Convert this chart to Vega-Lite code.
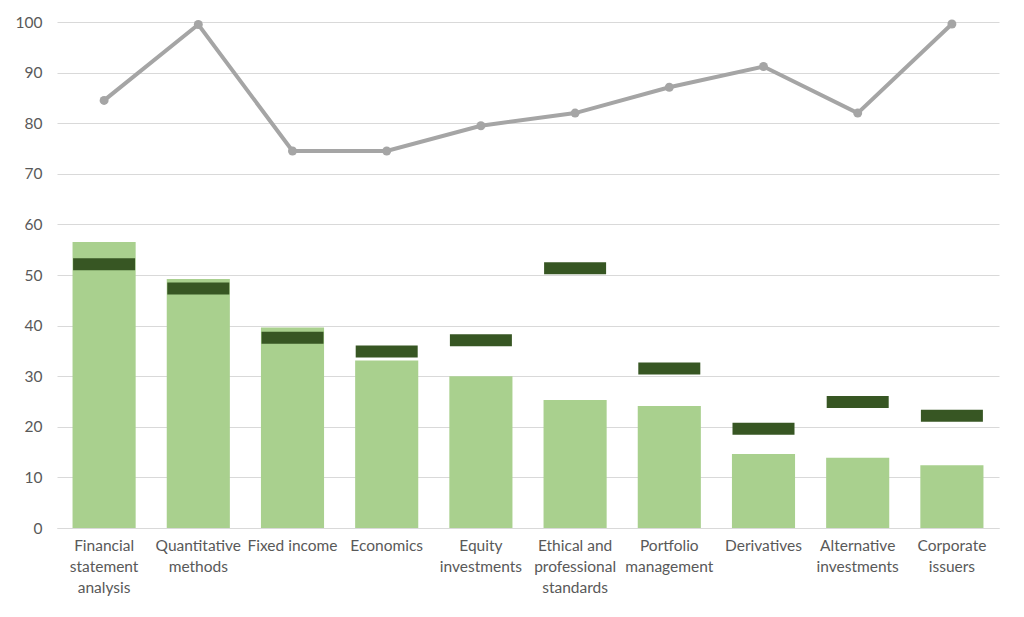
{
  "$schema": "https://vega.github.io/schema/vega-lite/v6.json",
  "autosize": {"type": "none"},
  "width": 942,
  "height": 506,
  "padding": {"left": 57, "top": 22, "right": 25, "bottom": 89},
  "background": "white",
  "data": {
    "values": [
      {"topic": "Financial statement analysis", "bar": 56.5, "marker": 52.1, "line": 84.5},
      {"topic": "Quantitative methods", "bar": 49.2, "marker": 47.35, "line": 99.5},
      {"topic": "Fixed income", "bar": 39.6, "marker": 37.6, "line": 74.5},
      {"topic": "Economics", "bar": 33.1, "marker": 34.9, "line": 74.5},
      {"topic": "Equity investments", "bar": 30.0, "marker": 37.1, "line": 79.5},
      {"topic": "Ethical and professional standards", "bar": 25.3, "marker": 51.35, "line": 82.0},
      {"topic": "Portfolio management", "bar": 24.1, "marker": 31.5, "line": 87.1},
      {"topic": "Derivatives", "bar": 14.6, "marker": 19.6, "line": 91.2},
      {"topic": "Alternative investments", "bar": 13.9, "marker": 24.9, "line": 82.0},
      {"topic": "Corporate issuers", "bar": 12.4, "marker": 22.2, "line": 99.6}
    ]
  },
  "encoding": {
    "x": {
      "field": "topic", "type": "nominal", "sort": null, "title": null,
      "scale": {"paddingInner": 0.33, "paddingOuter": 0.165},
      "axis": {
        "labelAngle": 0, "labelAlign": "center", "labelBaseline": "top",
        "labelPadding": 10, "labelLineHeight": 21, "labelOverlap": false, "labelBound": false,
        "ticks": false, "domainColor": "#D9D9D9", "domainWidth": 1,
        "labelExpr": "datum.value == 'Financial statement analysis' ? ['Financial','statement','analysis'] : datum.value == 'Quantitative methods' ? ['Quantitative','methods'] : datum.value == 'Equity investments' ? ['Equity','investments'] : datum.value == 'Ethical and professional standards' ? ['Ethical and','professional','standards'] : datum.value == 'Portfolio management' ? ['Portfolio','management'] : datum.value == 'Alternative investments' ? ['Alternative','investments'] : datum.value == 'Corporate issuers' ? ['Corporate','issuers'] : datum.value"
      }
    }
  },
  "layer": [
    {
      "mark": {"type": "bar", "color": "#A9D08E"},
      "encoding": {
        "y": {
          "field": "bar", "type": "quantitative", "title": null,
          "scale": {"domain": [0, 100], "nice": false},
          "axis": {
            "values": [0, 10, 20, 30, 40, 50, 60, 70, 80, 90, 100],
            "domain": false, "ticks": false, "labelPadding": 15,
            "gridColor": "#D9D9D9", "gridWidth": 1
          }
        }
      }
    },
    {
      "mark": {"type": "tick", "color": "#375623", "thickness": 12, "size": 62, "opacity": 1},
      "encoding": {"y": {"field": "marker", "type": "quantitative"}}
    },
    {
      "mark": {"type": "line", "color": "#A5A5A5", "strokeWidth": 4,
        "point": {"filled": true, "color": "#A5A5A5", "size": 80, "opacity": 1}},
      "encoding": {"y": {"field": "line", "type": "quantitative"}}
    }
  ],
  "config": {
    "view": {"stroke": null},
    "font": "Lato",
    "axis": {"labelFont": "Lato", "labelFontSize": 15.5, "labelColor": "#595959"}
  }
}
